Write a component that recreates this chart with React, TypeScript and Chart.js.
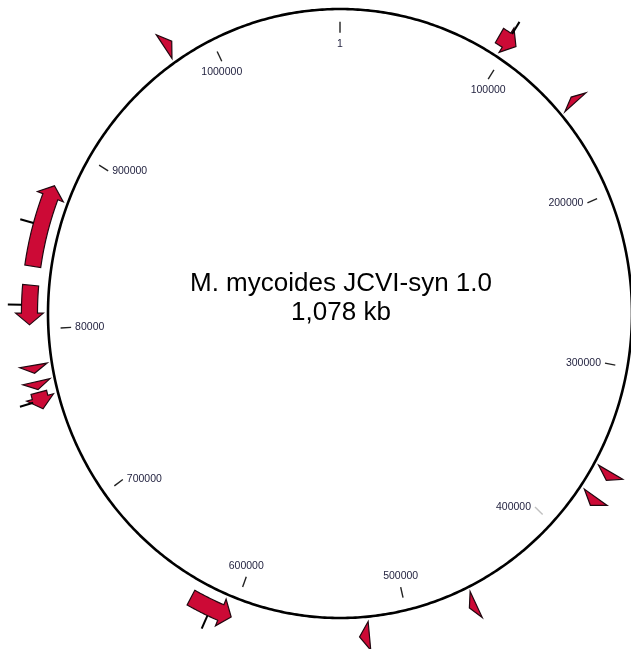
import React, { useEffect, useRef } from "react";
import { Chart, registerables } from "chart.js";

Chart.register(...registerables);

// ---- data ----
const genomeLength = 1078000;
const titleLines = ["M. mycoides JCVI-syn 1.0", "1,078 kb"];
const tickPositions = [1, 100000, 200000, 300000, 400000, 500000, 600000, 700000, 800000, 900000, 1000000];
const tickLabels = ["1", "100000", "200000", "300000", "400000", "500000", "600000", "700000", "80000", "900000", "1000000"];

// genes (bp), strand: 1 = clockwise, -1 = counter-clockwise, pin: has a marker line
const geneStarts = [92500, 144000, 357400, 373000, 461100, 522700, 600400, 757300, 767800, 776700, 802500, 833600, 974700];
const geneEnds = [103300, 147600, 362300, 378200, 465300, 528200, 624900, 766300, 772100, 780900, 823500, 878000, 979800];
const geneStrands = [1, -1, 1, 1, 1, 1, -1, -1, -1, -1, -1, 1, 1];
const genePins = [true, false, false, false, false, false, true, true, false, false, true, true, false];

// ---- style constants ----
const X_MIN = -1.1644, X_MAX = 0.9966;
const Y_MIN = -1.1018, Y_MAX = 1.0296;
const HEAD_BP = 6200;
const R_BODY_IN = 1.036, R_BODY_OUT = 1.091;
const R_HEAD_IN = 1.016, R_HEAD_OUT = 1.111, R_TIP = 1.064;
const R_TICK_IN = 0.922, R_TICK_OUT = 0.958;
const R_PIN_OUT = 1.138;
const FAINT_TICK = 400000;

const genomePlugin = {
  id: "genomeMap",
  afterDatasetsDraw(chart: any) {
    const ctx = chart.ctx as CanvasRenderingContext2D;
    const xs = chart.scales.x;
    const ys = chart.scales.y;
    const ang = (bp: number) => (bp / genomeLength) * Math.PI * 2;
    const pt = (r: number, a: number): [number, number] => [
      xs.getPixelForValue(r * Math.sin(a)),
      ys.getPixelForValue(r * Math.cos(a)),
    ];
    ctx.save();

    // backbone
    ctx.beginPath();
    for (let i = 0; i <= 720; i++) {
      const [x, y] = pt(1, (i / 720) * Math.PI * 2);
      if (i === 0) ctx.moveTo(x, y);
      else ctx.lineTo(x, y);
    }
    ctx.closePath();
    ctx.lineWidth = 2.6;
    ctx.strokeStyle = "#000";
    ctx.stroke();

    // ticks + labels
    ctx.font = '10.5px "Liberation Sans", Arial, sans-serif';
    ctx.textBaseline = "middle";
    tickPositions.forEach((p, i) => {
      const a = ang(p);
      const [x0, y0] = pt(R_TICK_IN, a);
      const [x1, y1] = pt(R_TICK_OUT, a);
      ctx.beginPath();
      ctx.moveTo(x0, y0);
      ctx.lineTo(x1, y1);
      ctx.lineWidth = 1.4;
      ctx.strokeStyle = p === FAINT_TICK ? "#c0c0c0" : "#222";
      ctx.stroke();
      const s = Math.sin(a), c = Math.cos(a);
      let tx = x0, ty = y0;
      if (Math.abs(s) > 0.7) {
        ctx.textAlign = s > 0 ? "right" : "left";
        tx += s > 0 ? -4 : 4;
      } else if (c > 0) {
        ctx.textAlign = "center";
        ty += 11;
      } else {
        ctx.textAlign = "center";
        ty -= 11;
      }
      ctx.fillStyle = "#1e1e3c";
      ctx.fillText(tickLabels[i], tx, ty);
    });

    // genes
    const arcPts = (r: number, a0: number, a1: number, out: [number, number][]) => {
      const n = Math.max(2, Math.ceil(Math.abs(a1 - a0) / 0.004));
      for (let k = 0; k <= n; k++) out.push(pt(r, a0 + ((a1 - a0) * k) / n));
    };
    geneStarts.forEach((st, i) => {
      const en = geneEnds[i];
      const strand = geneStrands[i];
      const a0 = ang(st), a1 = ang(en);
      const head = Math.min(ang(HEAD_BP), a1 - a0);
      const tipA = strand > 0 ? a1 : a0;
      const tailA = strand > 0 ? a0 : a1;
      const baseA = strand > 0 ? a1 - head : a0 + head;
      const poly: [number, number][] = [];
      const hasBody = Math.abs(baseA - tailA) > 1e-6;
      if (hasBody) arcPts(R_BODY_IN, tailA, baseA, poly);
      poly.push(pt(R_HEAD_IN, baseA));
      poly.push(pt(R_TIP, tipA));
      poly.push(pt(R_HEAD_OUT, baseA));
      if (hasBody) arcPts(R_BODY_OUT, baseA, tailA, poly);
      ctx.beginPath();
      poly.forEach(([x, y], k) => (k === 0 ? ctx.moveTo(x, y) : ctx.lineTo(x, y)));
      ctx.closePath();
      ctx.fillStyle = "#cc0a36";
      ctx.fill();
      ctx.lineWidth = 1.2;
      ctx.lineJoin = "miter";
      ctx.strokeStyle = "#200810";
      ctx.stroke();
    });
    // pins
    geneStarts.forEach((st, i) => {
      if (!genePins[i]) return;
      const mid = ang((st + geneEnds[i]) / 2);
      const [x0, y0] = pt(R_BODY_OUT, mid);
      const [x1, y1] = pt(R_PIN_OUT, mid);
      ctx.beginPath();
      ctx.moveTo(x0, y0);
      ctx.lineTo(x1, y1);
      ctx.lineWidth = 2;
      ctx.strokeStyle = "#000";
      ctx.stroke();
    });

    // title
    const cx = xs.getPixelForValue(0);
    const cy = ys.getPixelForValue(0);
    ctx.fillStyle = "#000";
    ctx.textAlign = "center";
    ctx.textBaseline = "middle";
    ctx.font = '26px "Liberation Sans", Arial, sans-serif';
    ctx.fillText(titleLines[0], cx + 1, cy - 30);
    ctx.fillText(titleLines[1], cx + 1, cy - 1);
    ctx.restore();
  },
};

export default function App() {
  const ref = useRef<HTMLCanvasElement | null>(null);
  useEffect(() => {
    if (!ref.current) return;
    const chart = new Chart(ref.current, {
      type: "scatter",
      data: { datasets: [{ data: [], pointRadius: 0 }] },
      options: {
        animation: false,
        responsive: false,
        devicePixelRatio: 1,
        layout: { padding: 0 },
        plugins: { legend: { display: false }, tooltip: { enabled: false }, title: { display: false } },
        scales: {
          x: { type: "linear", min: X_MIN, max: X_MAX, bounds: "data", display: false },
          y: { type: "linear", min: Y_MIN, max: Y_MAX, bounds: "data", display: false },
        },
      },
      plugins: [genomePlugin],
    });
    return () => chart.destroy();
  }, []);
  return (
    <div style={{ position: "fixed", left: 0, top: 0, width: 631, height: 649, background: "#fff" }}>
      <canvas ref={ref} width={631} height={649} style={{ display: "block" }} />
    </div>
  );
}
